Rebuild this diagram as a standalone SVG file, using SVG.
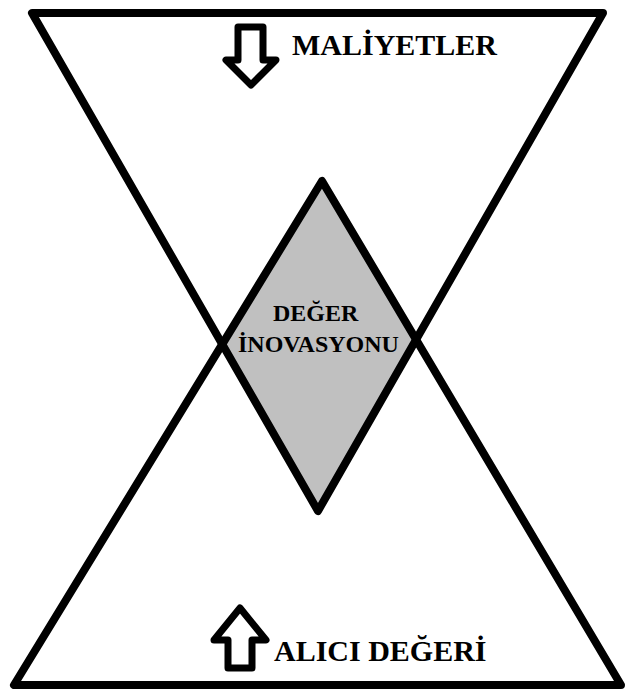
<svg xmlns="http://www.w3.org/2000/svg" width="625" height="693" viewBox="0 0 625 693">
<style>
.tri{fill:none;stroke:#000;stroke-width:8;stroke-linejoin:round}
.arr{fill:#fff;stroke:#000;stroke-width:7;stroke-linejoin:round}
.lbl{font-family:"Liberation Serif","Times New Roman",serif;font-weight:bold;fill:#000}
</style>
<rect width="625" height="693" fill="#fff"/>
<g id="innovation">
<polygon points="322,181 416,340 318,511 222,344" fill="#c0c0c0"/>
</g>
<g id="connectors">
<polygon class="tri" points="32,13 603,13 318,511"/>
<polygon class="tri" points="14,685 621,685 322,181"/>
</g>
<g id="costs">
<polygon class="arr" points="238,27 263,27 263,60 276,60 251,85 226,60 238,60"/>
<text class="lbl" x="292" y="55" font-size="30">MALİYETLER</text>
</g>
<g id="value">
<polygon class="arr" points="240,608 266,640 252,640 252,668 228,668 228,640 214,640"/>
<text class="lbl" x="274" y="661" font-size="30">ALICI DEĞERİ</text>
</g>
<g id="innovation-label">
<text class="lbl" x="273" y="321" font-size="24">DEĞER</text>
<text class="lbl" x="238" y="352" font-size="24">İNOVASYONU</text>
</g>
</svg>
